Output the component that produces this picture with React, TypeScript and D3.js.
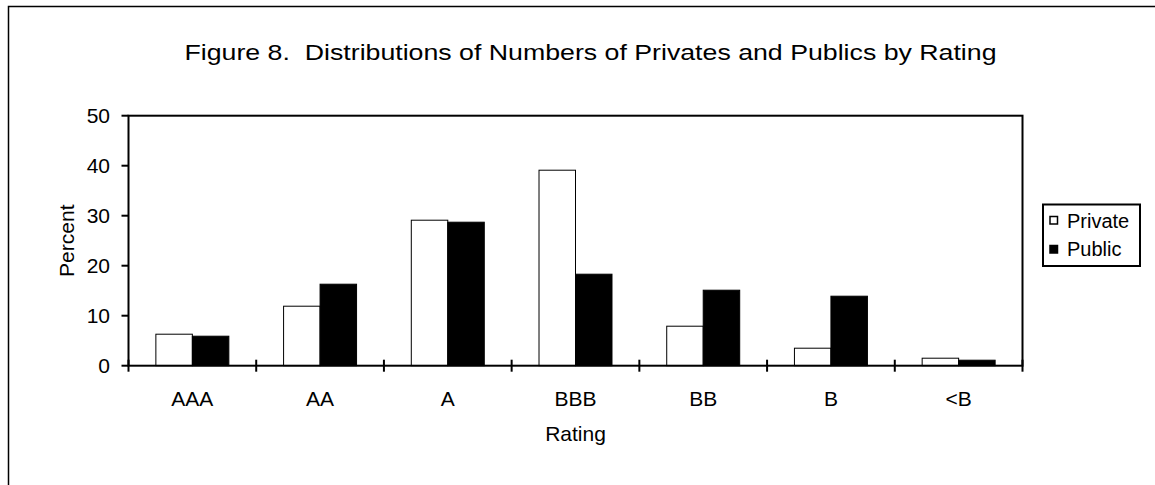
import React from "react";
import * as d3 from "d3";

const categories = ["AAA", "AA", "A", "BBB", "BB", "B", "<B"];
const privateValues = [6.3, 11.9, 29.1, 39.1, 7.9, 3.5, 1.5];
const publicValues = [5.9, 16.3, 28.7, 18.3, 15.1, 13.9, 1.1];
const yTicks = [0, 10, 20, 30, 40, 50];
const seriesNames = ["Private", "Public"];

const W = 1155;
const H = 485;
const FONT = "'Liberation Sans', Arial, Helvetica, sans-serif";

export default function App() {
  const left = 128.5;
  const right = 1022.5;
  const top = 115.7;
  const bottom = 365.7;

  const x = d3.scaleBand<string>().domain(categories).range([left, right]).paddingInner(0).paddingOuter(0);
  const y = d3.scaleLinear().domain([0, 50]).range([bottom, top]);
  const bw = x.bandwidth();
  const barW = bw / 3.5;
  const gap = (bw - 2 * barW) / 2;

  const boundaries = d3.range(categories.length + 1).map((i) => left + i * bw);

  return (
    <div style={{ position: "fixed", left: 0, top: 0, width: W, height: H, background: "#fff" }}>
      <svg width={W} height={H} style={{ display: "block" }} fontFamily={FONT}>
        <rect x={0} y={0} width={W} height={H} fill="#fff" />
        <rect x={8.5} y={6.5} width={W + 20} height={H + 20} fill="none" stroke="#000" strokeWidth={1.5} />
        <text
          x={590.5}
          y={60}
          textAnchor="middle"
          fontSize={22}
          fill="#000"
          textLength={812}
          lengthAdjust="spacingAndGlyphs"
          style={{ whiteSpace: "pre" }}
        >
          {"Figure 8.  Distributions of Numbers of Privates and Publics by Rating"}
        </text>
        {/* bars */}
        {categories.map((c, i) => {
          const x0 = (x(c) as number) + gap;
          return (
            <g key={c}>
              <rect
                x={x0}
                y={y(privateValues[i])}
                width={barW}
                height={bottom - y(privateValues[i])}
                fill="#fff"
                stroke="#000"
                strokeWidth={1}
              />
              <rect
                x={x0 + barW}
                y={y(publicValues[i])}
                width={barW}
                height={bottom - y(publicValues[i])}
                fill="#000"
                stroke="#000"
                strokeWidth={1}
              />
            </g>
          );
        })}
        {/* plot frame */}
        <rect x={left} y={top} width={right - left} height={bottom - top} fill="none" stroke="#000" strokeWidth={2} />
        {/* y ticks */}
        {yTicks.map((t) => (
          <g key={t}>
            <line x1={left - 7} x2={left} y1={y(t)} y2={y(t)} stroke="#000" strokeWidth={2} />
            <text x={110} y={y(t) + 7.5} textAnchor="end" fontSize={21} fill="#000">
              {t}
            </text>
          </g>
        ))}
        {/* x ticks */}
        {boundaries.map((b, i) => (
          <line key={i} x1={b} x2={b} y1={bottom - 6} y2={bottom + 6} stroke="#000" strokeWidth={2} />
        ))}
        {categories.map((c) => (
          <text key={c} x={(x(c) as number) + bw / 2} y={406} textAnchor="middle" fontSize={21} fill="#000">
            {c}
          </text>
        ))}
        <text x={(left + right) / 2} y={441} textAnchor="middle" fontSize={21} fill="#000">
          Rating
        </text>
        <text
          transform={`translate(74, ${(top + bottom) / 2}) rotate(-90)`}
          textAnchor="middle"
          fontSize={21}
          fill="#000"
        >
          Percent
        </text>
        {/* legend */}
        <rect x={1043} y={204.5} width={97} height={61.5} fill="#fff" stroke="#000" strokeWidth={2} />
        {seriesNames.map((s, i) => (
          <g key={s}>
            <rect
              x={1050}
              y={216.5 + i * 29}
              width={7.5}
              height={7.5}
              fill={i === 0 ? "#fff" : "#000"}
              stroke="#000"
              strokeWidth={1.5}
            />
            <text x={1067} y={228 + i * 27.5} fontSize={20} fill="#000">
              {s}
            </text>
          </g>
        ))}
      </svg>
    </div>
  );
}
